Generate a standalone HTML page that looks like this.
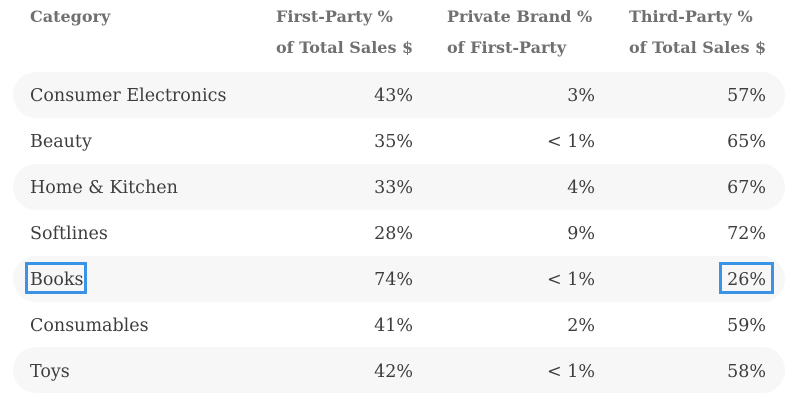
<!DOCTYPE html>
<html><head><style>
body{margin:0;width:792px;height:408px;background:#fff;position:relative;font-family:"DejaVu Serif",serif;overflow:hidden}
.t{position:absolute;white-space:nowrap}
.h{font-weight:bold;color:#707070;font-size:16px}
.b{color:#3d3d3d;font-size:17.5px}
.band{position:absolute;left:13px;width:772px;height:46px;background:#f7f7f7;border-radius:23px}
.r{text-align:right}
.box{position:absolute;border:3px solid #3b93e6;box-sizing:border-box}
</style></head><body>
<div class="t h" style="left:30px;top:7px">Category</div>
<div class="t h" style="left:276px;top:7px">First-Party %</div>
<div class="t h" style="left:276px;top:38px">of Total Sales $</div>
<div class="t h" style="left:447px;top:7px">Private Brand %</div>
<div class="t h" style="left:447px;top:38px">of First-Party</div>
<div class="t h" style="left:629px;top:7px">Third-Party %</div>
<div class="t h" style="left:629px;top:38px">of Total Sales $</div>
<div class="band" style="top:72px"></div>
<div class="band" style="top:164px"></div>
<div class="band" style="top:256px"></div>
<div class="band" style="top:347px"></div>
<div id="rows"></div>
<script>
var d=[["Consumer Electronics","43%","3%","57%"],["Beauty","35%","< 1%","65%"],["Home & Kitchen","33%","4%","67%"],["Softlines","28%","9%","72%"],["Books","74%","< 1%","26%"],["Consumables","41%","2%","59%"],["Toys","42%","< 1%","58%"]];
var h="";d.forEach(function(r,i){var y=85.5+i*46;
h+='<div class="t b" style="left:30px;top:'+y+'px">'+r[0].replace("&","&amp;")+'</div>';
[[413,r[1]],[595,r[2]],[766,r[3]]].forEach(function(c){h+='<div class="t b r" style="right:'+(792-c[0])+'px;top:'+y+'px">'+c[1].replace("<","&lt;")+'</div>';});});
document.getElementById("rows").innerHTML=h;
</script>
<div class="box" style="left:25px;top:262px;width:62px;height:32px"></div>
<div class="box" style="left:719px;top:262px;width:55px;height:32px"></div>
</body></html>
